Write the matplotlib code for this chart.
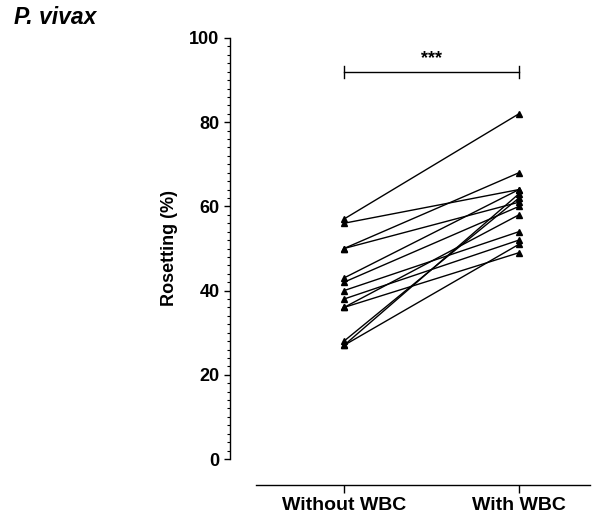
import matplotlib
matplotlib.use("Agg")
import matplotlib.pyplot as plt
from matplotlib.ticker import MultipleLocator

plt.rcParams['font.family'] = ['Liberation Sans', 'DejaVu Sans']

# Paired rosetting measurements per isolate
groups = ["Without WBC", "With WBC"]
without_wbc = [57, 56, 50, 50, 43, 42, 40, 38, 36, 36, 28, 27, 27]
with_wbc = [82, 64, 68, 61, 64, 60, 54, 52, 58, 49, 62, 63, 51]
y_ticks = [0, 20, 40, 60, 80, 100]
sig_label = "***"
sig_level = 92

fig = plt.figure(figsize=(5.97, 5.19), dpi=100)
ax = fig.add_axes([256 / 597, 1 - 459 / 519, (590 - 256) / 597, (459 - 38) / 519])

# detached axes (spines offset outward) — done first since it resets the ticks
for s in ['top', 'right']:
    ax.spines[s].set_visible(False)
ax.spines['left'].set_position(('outward', 26 * 0.72))
ax.spines['bottom'].set_position(('outward', 26 * 0.72))
ax.spines['left'].set_linewidth(1.0)
ax.spines['bottom'].set_linewidth(1.0)

for a, b in zip(without_wbc, with_wbc):
    ax.plot([0, 1], [a, b], color='black', lw=1.0, marker='^', ms=5,
            markerfacecolor='black', markeredgecolor='black', clip_on=False)

ax.set_xlim(-0.503, 1.406)
ax.set_ylim(0, 100)
ax.set_xticks([0, 1])
ax.set_xticklabels(groups, fontsize=14, fontweight='bold')
ax.set_yticks(y_ticks)
ax.set_yticklabels([str(t) for t in y_ticks], fontsize=13, fontweight='bold')
ax.yaxis.set_minor_locator(MultipleLocator(2))

ax.tick_params(axis='y', which='major', length=4.5, width=1.0, pad=3)
ax.tick_params(axis='y', which='minor', length=2.3, width=0.8)
ax.tick_params(axis='x', which='major', length=5.5, width=1.0, pad=3)

ax.set_ylabel("Rosetting (%)", fontsize=13, fontweight='bold')
ax.yaxis.set_label_coords((178 - 256) / 334, 0.5)

# significance bracket
ax.plot([0, 1], [sig_level, sig_level], color='black', lw=1.0, clip_on=False)
for xx in (0, 1):
    ax.plot([xx, xx], [sig_level - 1.4, sig_level + 1.4], color='black', lw=1.0, clip_on=False)
ax.text(0.5, sig_level + 1.2, sig_label, ha='center', va='bottom', fontsize=13, fontweight='bold')

fig.text(14 / 597, 1 - 18 / 519, "P. vivax", fontsize=16.5, fontweight='bold', style='italic',
         ha='left', va='center')

fig.savefig("out.png", dpi=100)
